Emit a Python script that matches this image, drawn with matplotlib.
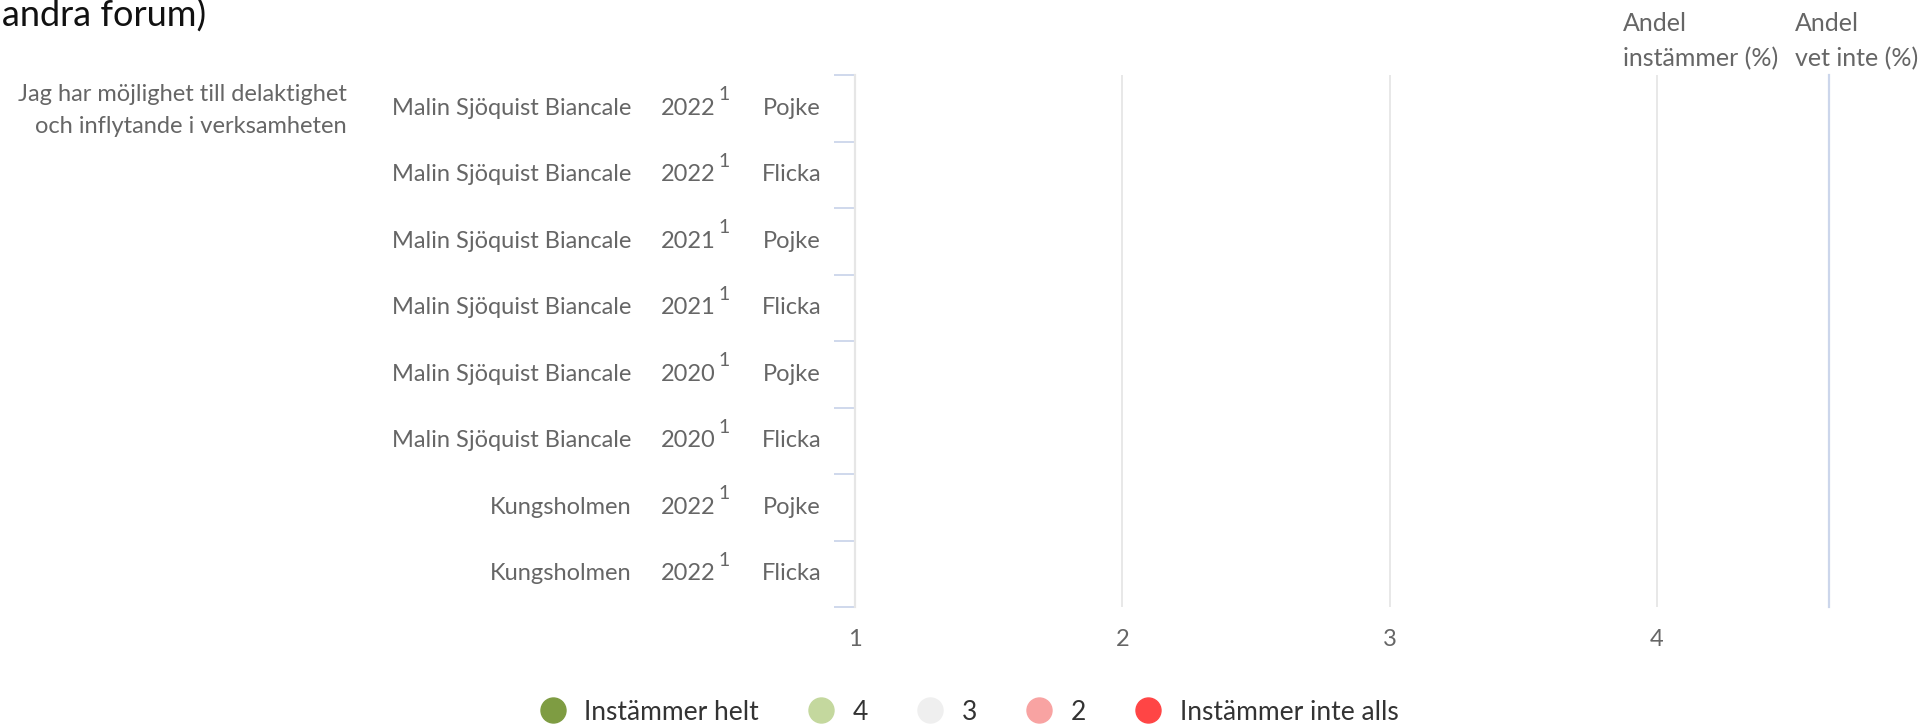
import numpy as np
import matplotlib
matplotlib.use("Agg")
import matplotlib.pyplot as plt
from matplotlib.transforms import blended_transform_factory
from matplotlib.lines import Line2D

plt.rcParams['font.family'] = ['Lato', 'DejaVu Sans']

# categories (one row per unit/year/gender)
question = ["Jag har möjlighet till delaktighet", "och inflytande i verksamheten"]
units = ["Malin Sjöquist Biancale"] * 6 + ["Kungsholmen"] * 2
years = ["2022", "2022", "2021", "2021", "2020", "2020", "2022", "2022"]
genders = ["Pojke", "Flicka", "Pojke", "Flicka", "Pojke", "Flicka", "Pojke", "Flicka"]
xticks = [1, 2, 3, 4]
x_max = 4.644
legend_labels = ["Instämmer helt", "4", "3", "2", "Instämmer inte alls"]
legend_colors = ["#7e9c42", "#c4d89e", "#efefef", "#f8a3a2", "#ff4545"]

W, H = 1925, 726
fs = 17
fig = plt.figure(figsize=(W / 100, H / 100), dpi=100)
ax = fig.add_axes([855 / W, 1 - 607 / H, (1829 - 855) / W, (607 - 75) / H])

n = len(units)
ax.set_xlim(1, x_max)
ax.set_ylim(n, 0)

# grid / axes styling
ax.set_xticks(xticks)
ax.set_xticklabels([str(t) for t in xticks], fontsize=fs, color="#666666")
ax.tick_params(axis="x", length=0, pad=16)
ax.set_yticks(np.arange(n + 1))
ax.set_yticklabels([])
ax.tick_params(axis="y", length=15, width=1.3, color="#ccd6eb")
for t in xticks[1:]:
    ax.axvline(t, color="#e6e6e6", lw=1.3, zorder=0)
for s in ["top", "bottom"]:
    ax.spines[s].set_visible(False)
ax.spines["left"].set_color("#e6e6e6")
ax.spines["left"].set_linewidth(1.6)
ax.spines["right"].set_color("#ccd6eb")
ax.spines["right"].set_linewidth(1.6)

# row labels
tr = blended_transform_factory(fig.transFigure, ax.transData)
lab = dict(fontsize=fs, color="#666666", transform=tr, va="center")
ax.text(347 / W, 0.29, question[0], ha="right", **lab)
ax.text(347 / W, 0.77, question[1], ha="right", **lab)
for i in range(n):
    y = i + 0.5
    ax.text(631 / W, y, units[i], ha="right", **lab)
    ax.text(716 / W, y, years[i], ha="right", **lab)
    ax.text(718 / W, y - 0.2, "1", ha="left", fontsize=14, color="#666666",
            transform=tr, va="center")
    ax.text(821 / W, y, genders[i], ha="right", **lab)

# column headers
ax.text(1623 / W, 1 - 66 / H, "Andel\ninstämmer (%)", transform=fig.transFigure,
        ha="left", va="baseline", fontsize=18, color="#666666", linespacing=1.6)
ax.text(1795 / W, 1 - 66 / H, "Andel\nvet inte (%)", transform=fig.transFigure,
        ha="left", va="baseline", fontsize=18, color="#666666", linespacing=1.6)

# cut-off title
fig.text(2 / W, 1 - 27 / H, "andra forum)", ha="left", va="baseline",
         fontsize=26, color="#111111")

# legend
handles = [Line2D([], [], marker="o", ls="", markersize=18, color=c) for c in legend_colors]
fig.legend(handles, legend_labels, loc="center", bbox_to_anchor=(0.5, 1 - 712 / H),
           ncol=5, frameon=False, fontsize=19, handletextpad=0.2, columnspacing=1.35,
           labelcolor="#333333")

fig.savefig("out.png", dpi=100)
